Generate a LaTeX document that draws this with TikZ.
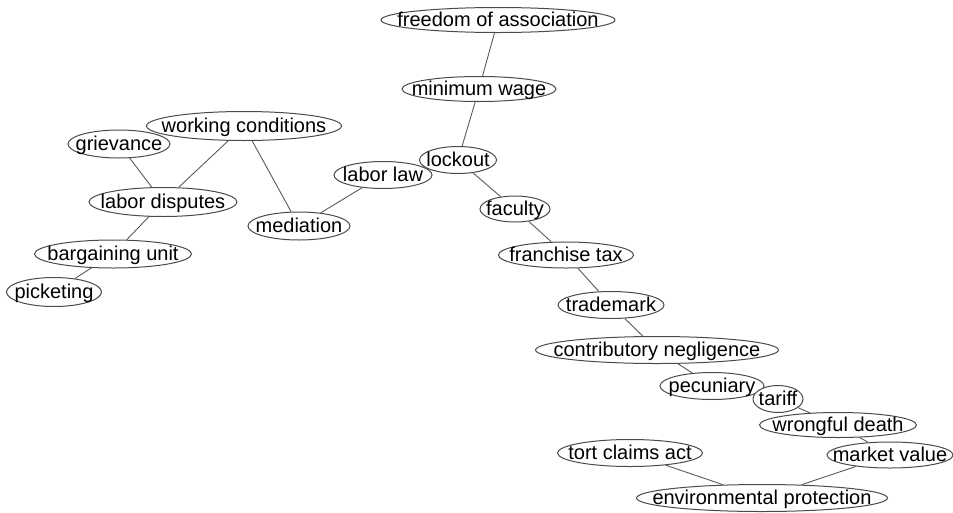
\documentclass[tikz,border=0pt]{standalone}
\usepackage{fontspec}
\setmainfont{Liberation Sans}
\usetikzlibrary{shapes.geometric}

\definecolor{rim}{HTML}{4A4A4A}
\definecolor{wire}{HTML}{5A5A5A}

\tikzset{
  term/.style={ellipse, draw=rim, line width=1pt, fill=white, inner sep=0pt,
    text height=14.8pt, text depth=2pt, font=\fontsize{20}{22}\selectfont},
  link/.style={draw=wire, line width=0.9pt},
}
% a term: name, position, ellipse width, ellipse height, label
\newcommand\termnode[5]{%
  \node[term, minimum width=#3pt, minimum height=#4pt] (#1) at (#2) {\makebox[0pt]{#5}};}

\begin{document}
\begin{tikzpicture}[x=1pt, y=-1pt]
\useasboundingbox (0,0) rectangle (953,512);

% upper branch
\termnode{fa}{498,20}{234}{25}{freedom of association}
\termnode{mw}{479,89}{154}{25}{minimum wage}
\termnode{ll}{383,175}{98}{27}{labor law}
\termnode{lo}{458,160}{77}{27}{lockout}
\termnode{fac}{515,209}{70}{26}{faculty}
\termnode{ft}{566,255}{135}{26}{franchise tax}
\termnode{tm}{611,305}{106}{27}{trademark}
\termnode{cn}{657,350}{243}{27}{contributory negligence}
\termnode{pe}{712,386}{104}{27}{pecuniary}
\termnode{ta}{778,399}{50}{27}{tariff}
\termnode{wd}{838,425}{157}{25}{wrongful death}
\termnode{mv}{890,455}{126}{26}{market value}
\termnode{tc}{630,453}{145}{27}{tort claims act}
\termnode{ep}{762,498}{251}{27}{environmental protection}

% left branch
\termnode{wc}{244,126}{195}{29}{working conditions}
\termnode{gr}{119,144}{102}{28}{grievance}
\termnode{ld}{163,202}{148}{29}{labor disputes}
\termnode{me}{299,226}{102}{28}{mediation}
\termnode{bu}{113,254}{157}{28}{bargaining unit}
\termnode{pk}{54,292}{95}{29}{picketing}

% connectors between term ellipses
\path[link]
  (fa) -- (mw)
  (mw) -- (lo)
  (lo) -- (ll)
  (lo) -- (fac)
  (fac) -- (ft)
  (ft) -- (tm)
  (tm) -- (cn)
  (cn) -- (pe)
  (pe) -- (ta)
  (ta) -- (wd)
  (wd) -- (mv)
  (mv) -- (ep)
  (tc) -- (ep)
  (ll) -- (me)
  (me) -- (wc)
  (wc) -- (ld)
  (gr) -- (ld)
  (ld) -- (bu)
  (bu) -- (pk);
\end{tikzpicture}
\end{document}
